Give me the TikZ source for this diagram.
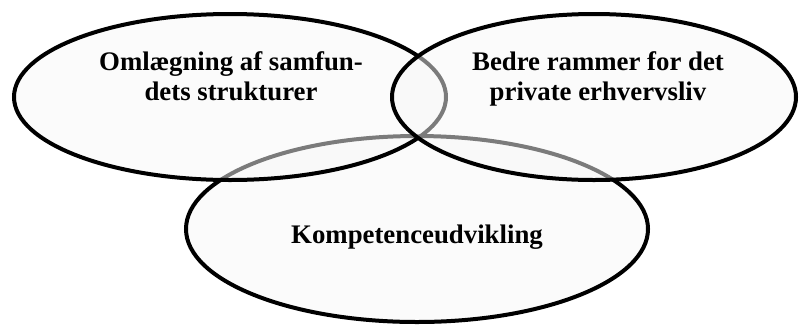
\documentclass[tikz,border=0pt]{standalone}
\usepackage{fontspec}
\setmainfont{Liberation Serif}
\begin{document}
\begin{tikzpicture}[x=1pt,y=-1pt,
  bubble/.style={draw=black,line width=4pt,fill=gray!6,fill opacity=0.5},
  lbl/.style={font=\bfseries\fontsize{26.8}{30}\selectfont,align=center,anchor=base,inner sep=0pt}]
\useasboundingbox (0,0) rectangle (799,325);
\filldraw[bubble] (417,229) ellipse [x radius=231, y radius=93];
\filldraw[bubble] (230,97) ellipse [x radius=216, y radius=83];
\filldraw[bubble] (594,97) ellipse [x radius=202, y radius=83];
\node[lbl] (t1) at (231,70) {Omlægning af samfun-};
\node[lbl] (t1b) at (231,100) {dets strukturer};
\node[lbl] (t2) at (598,70) {Bedre rammer for det};
\node[lbl] (t2b) at (598,100) {private erhvervsliv};
\node[lbl] (t3) at (417,243) {Kompetenceudvikling};
\end{tikzpicture}
\end{document}
